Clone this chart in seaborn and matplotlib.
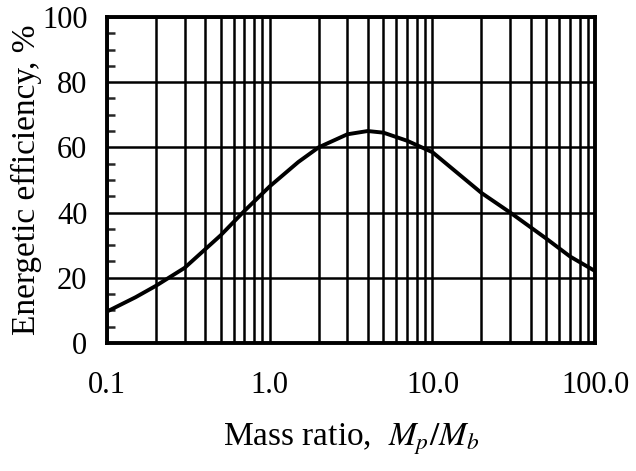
import numpy as np
import pandas as pd
import seaborn as sns
import matplotlib.pyplot as plt
from matplotlib.ticker import FixedLocator, NullFormatter

# values
mass_ratio = [0.1, 0.15, 0.2, 0.3, 0.5, 0.7, 1.0, 1.5, 2.0, 3.0, 4.0, 5.0, 7.0, 10.0, 20.0, 30.0, 50.0, 70.0, 100.0]
efficiency = [9.6, 14.0, 17.5, 23.0, 33.0, 40.5, 48.0, 55.5, 60.0, 64.0, 65.0, 64.5, 62.0, 58.5, 46.0, 40.0, 32.0, 26.5, 22.0]

x_ticks = [0.1, 1.0, 10.0, 100.0]
x_tick_labels = ["0.1", "1.0", "10.0", "100.0"]
y_ticks = [0, 20, 40, 60, 80, 100]

df = pd.DataFrame({"ratio": mass_ratio, "eff": efficiency})

sns.set_theme(style="white")
plt.rcParams['font.family'] = ['Liberation Serif', 'DejaVu Serif']
plt.rcParams['mathtext.fontset'] = 'stix'

fig, ax = plt.subplots(figsize=(6.36, 4.71), dpi=100)
sns.lineplot(data=df, x="ratio", y="eff", color="black", linewidth=2.8, ax=ax, zorder=3)

ax.set_xscale("log")
ax.set_xlim(0.1, 100)
ax.set_ylim(0, 100)

# grid: every log minor line on x, every 20 on y
minor_x = [m * 10.0 ** e for e in (-1, 0, 1) for m in range(2, 10)]
ax.xaxis.set_minor_locator(FixedLocator(minor_x))
ax.xaxis.set_minor_formatter(NullFormatter())
ax.set_xticks(x_ticks)
ax.set_xticklabels(x_tick_labels)
ax.set_yticks(y_ticks)
ax.yaxis.set_minor_locator(FixedLocator(list(range(5, 100, 5))))
ax.grid(True, which="both", axis="x", color="black", linewidth=1.8)
ax.grid(True, which="major", axis="y", color="black", linewidth=1.8)

ax.tick_params(axis="x", which="both", length=0, pad=20, labelsize=22, colors="black")
ax.tick_params(axis="y", which="major", length=0, pad=14, labelsize=22, colors="black")
ax.tick_params(axis="y", which="minor", direction="in", length=6, width=1.8, left=True, right=False)

for s in ax.spines.values():
    s.set_color("black")
    s.set_linewidth(2.8)
    s.set_zorder(4)

ax.set_xlabel("Mass ratio,  $M_p/M_b$", fontsize=24, labelpad=16, color="black")
ax.set_ylabel("Energetic efficiency, %", fontsize=24, labelpad=0, color="black")

fig.subplots_adjust(left=0.168, right=0.936, top=0.964, bottom=0.272)
fig.savefig("out.png", dpi=100, facecolor="white")
